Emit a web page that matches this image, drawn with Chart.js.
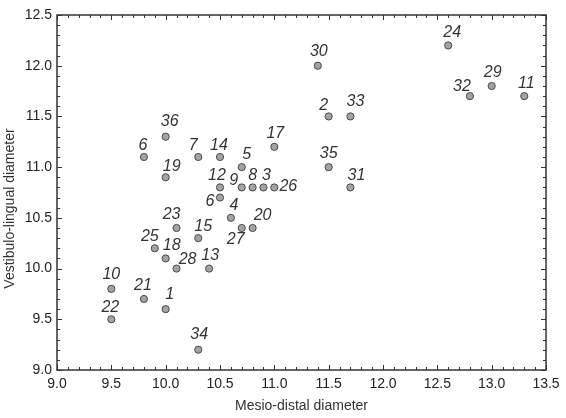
<!DOCTYPE html>
<html>
<head>
<meta charset="utf-8">
<script src="https://cdn.jsdelivr.net/npm/chart.js@4"></script>
<style>
html,body{margin:0;padding:0;background:#fff;}
#wrap{width:566px;height:418px;}
</style>
</head>
<body>
<div id="wrap"><canvas id="c" width="566" height="418"></canvas></div>
<script>
// ---- data ----
const toothLabels = ['1','2','3','4','5','6','6','7','8','9','10','11','12','13','14','15','17','18','19','20','21','22','23','24','25','26','27','28','29','30','31','32','33','34','35','36'];
const mesioDistal = [10.0,11.5,10.9,10.6,10.7,9.8,10.5,10.3,10.8,10.7,9.5,13.3,10.5,10.4,10.5,10.3,11.0,10.0,10.0,10.8,9.8,9.5,10.1,12.6,9.9,11.0,10.7,10.1,13.0,11.4,11.7,12.8,11.7,10.3,11.5,10.0];
const vestibuloLingual = [9.6,11.5,10.8,10.5,11.0,11.1,10.7,11.1,10.8,10.8,9.8,11.7,10.8,10.0,11.1,10.3,11.2,10.1,10.9,10.4,9.7,9.5,10.4,12.2,10.2,10.8,10.4,10.0,11.8,12.0,10.8,11.7,11.5,9.2,11.0,11.3];
const xTicks = [9.0,9.5,10.0,10.5,11.0,11.5,12.0,12.5,13.0,13.5];
const yTicks = [9.0,9.5,10.0,10.5,11.0,11.5,12.0,12.5];
const xTitle = 'Mesio-distal diameter';
const yTitle = 'Vestibulo-lingual diameter';

// label placement (pixel offsets of label centre from its point), kept separate from data
const labelOffsets = [[4,-15],[-5,-11],[3,-12],[3,-12],[5,-13],[-1,-11],[-10,4],[-5,-11],[0,-12],[-8,-7],[0,-14],[2,-13],[-3,-12],[1,-13],[-1,-11],[5,-12],[1,-13],[6,-13],[6,-11],[10,-12],[-1,-13],[-1,-12],[-5,-13],[4,-13],[-5,-12],[14,-1],[-6,12],[11,-9],[1,-13],[1,-14],[6,-12],[-8,-10],[5,-15],[1,-15],[0,-14],[4,-15]];

const points = mesioDistal.map((x,i)=>({x:x,y:vestibuloLingual[i]}));
const FONT = '"Liberation Sans", Arial, sans-serif';

const frameTicks = {
  id:'frameTicks',
  afterDatasetsDraw(chart){
    const {ctx, chartArea:a, scales:{x,y}} = chart;
    ctx.save();
    ctx.strokeStyle = '#333';
    ctx.lineWidth = 1;
    ctx.beginPath();
    for(let k=90;k<=135;k++){
      const v=k/10, px=Math.round(x.getPixelForValue(v))+0.5, len=(k%5===0)?5:3;
      ctx.moveTo(px,a.bottom); ctx.lineTo(px,a.bottom-len);
      ctx.moveTo(px,a.top); ctx.lineTo(px,a.top+len);
    }
    for(let k=90;k<=125;k++){
      const v=k/10, py=Math.round(y.getPixelForValue(v))+0.5, len=(k%5===0)?5:3;
      ctx.moveTo(a.left,py); ctx.lineTo(a.left+len,py);
      ctx.moveTo(a.right,py); ctx.lineTo(a.right-len,py);
    }
    ctx.stroke();
    ctx.lineWidth = 1.5;
    ctx.strokeRect(a.left,a.top,a.right-a.left,a.bottom-a.top);
    // y axis title (slightly below the axis centre, as in the reference)
    ctx.save();
    ctx.fillStyle = '#333';
    ctx.font = '14px ' + FONT;
    ctx.textAlign = 'center';
    ctx.textBaseline = 'middle';
    ctx.translate(10, (a.top + a.bottom) / 2 + 16);
    ctx.rotate(-Math.PI/2);
    ctx.fillText(yTitle, 0, 0);
    ctx.restore();
    // point labels
    ctx.fillStyle = '#333';
    ctx.font = 'italic 16px ' + FONT;
    ctx.textAlign = 'center';
    ctx.textBaseline = 'middle';
    const meta = chart.getDatasetMeta(0);
    meta.data.forEach((el,i)=>{
      const o = labelOffsets[i];
      ctx.fillText(toothLabels[i], el.x+o[0], el.y+o[1]);
    });
    ctx.restore();
  }
};

new Chart(document.getElementById('c'), {
  type:'scatter',
  data:{datasets:[{
    label:'Teeth',
    data:points,
    backgroundColor:'#a3a3a3',
    borderColor:'#4a4a4a',
    borderWidth:1,
    pointRadius:3.6,
    pointHoverRadius:3.6
  }]},
  options:{
    responsive:false,
    animation:false,
    events:[],
    layout:{padding:{top:15,right:20,left:0,bottom:0}},
    plugins:{legend:{display:false},tooltip:{enabled:false}},
    scales:{
      x:{
        type:'linear', min:9.0, max:13.5,
        afterBuildTicks(s){ s.ticks = xTicks.map(v=>({value:v})); },
        afterFit(s){ s.height = 48; },
        grid:{display:false, drawTicks:false},
        border:{display:false},
        ticks:{padding:6, color:'#222', font:{family:FONT, size:14}, maxRotation:0,
          callback:v=>Number(v).toFixed(1)},
        title:{display:true, text:xTitle, color:'#333',
          font:{family:FONT, size:14}, padding:{top:0,bottom:3}}
      },
      y:{
        type:'linear', min:9.0, max:12.5,
        afterBuildTicks(s){ s.ticks = yTicks.map(v=>({value:v})); },
        afterFit(s){ s.width = 57; },
        grid:{display:false, drawTicks:false},
        border:{display:false},
        ticks:{padding:5, color:'#222', font:{family:FONT, size:14},
          callback:v=>Number(v).toFixed(1)},
        title:{display:false, text:yTitle}
      }
    }
  },
  plugins:[frameTicks]
});
</script>
</body>
</html>
